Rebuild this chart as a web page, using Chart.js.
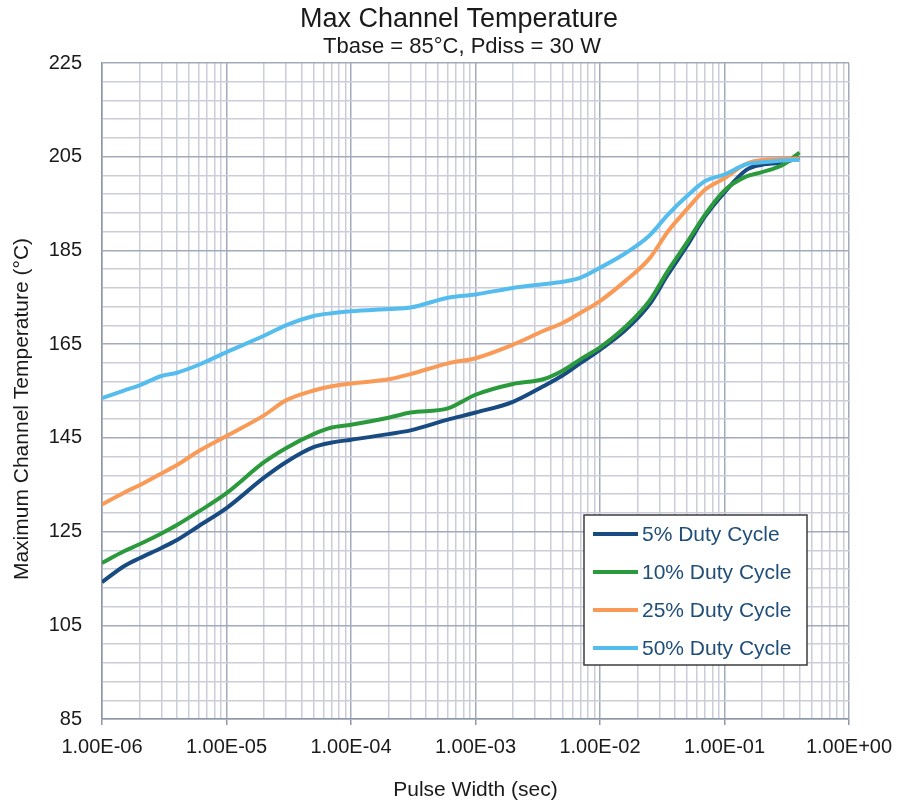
<!DOCTYPE html>
<html>
<head>
<meta charset="utf-8">
<title>Max Channel Temperature</title>
<script src="https://cdn.jsdelivr.net/npm/chart.js@4.4.1/dist/chart.umd.min.js"></script>
<style>
    body { margin: 0; background: #fff; }
    canvas { display: block; }
</style>
</head>
<body>
<canvas id="tempChart" width="897" height="803"></canvas>
<script>
// Pulse width (sec) sample points shared by every curve
const pulseWidth = [1e-6, 1.5e-6, 2e-6, 3e-6, 4e-6, 6e-6, 1e-5, 2e-5, 3e-5, 5e-5, 7e-5,
    1e-4, 2e-4, 3e-4, 6e-4, 1e-3, 2e-3, 3.5e-3, 5e-3, 7e-3, 1e-2, 1.6e-2, 2.5e-2, 3.5e-2,
    5e-2, 7e-2, 1e-1, 1.5e-1, 2e-1, 3e-1, 4e-1];

// Max channel temperature (°C) per duty cycle
const temp5 = [114.2, 117.6, 119.3, 121.5, 123.2, 126.2, 130, 136.5, 139.8, 143, 144,
    144.6, 145.8, 146.6, 148.9, 150.4, 152.7, 156, 158.3, 161, 163.8, 168, 173.5, 179.8,
    186, 192.3, 197.4, 202.2, 203.3, 203.8, 204.8];
const temp10 = [118.3, 120.8, 122.3, 124.6, 126.4, 129.3, 133.2, 139.8, 142.8, 145.8, 147.2,
    147.8, 149.3, 150.4, 151.3, 154.2, 156.5, 157.5, 159.3, 161.8, 164.3, 168.7, 174.3, 180.6,
    186.7, 192.7, 197.8, 200.8, 201.7, 203.4, 205.9];
const temp25 = [130.8, 133.3, 134.9, 137.4, 139.2, 142.2, 145.4, 149.8, 153, 155.1, 156,
    156.6, 157.5, 158.6, 160.9, 162, 164.9, 167.8, 169.5, 171.7, 174.2, 178.5, 183.3, 189,
    193.8, 198, 200.4, 203.5, 204.3, 204.5, 204.6];
const temp50 = [153.5, 155.1, 156.2, 158.2, 158.9, 160.6, 163.3, 166.8, 169, 171, 171.6,
    172, 172.5, 172.8, 174.9, 175.6, 177, 177.8, 178.3, 179.2, 181.3, 184.4, 188.2, 192.6,
    196.6, 199.8, 201.2, 203.4, 203.8, 204.2, 204.3];

const seriesLabels = ['5% Duty Cycle', '10% Duty Cycle', '25% Duty Cycle', '50% Duty Cycle'];
const seriesColors = ['#184b82', '#2b9a3c', '#f99a56', '#55bdee'];

// Axis ticks
const xDecades = [1e-6, 1e-5, 1e-4, 1e-3, 1e-2, 1e-1, 1e0];
const yMajor = [85, 105, 125, 145, 165, 185, 205, 225];
const yMinorStep = 4;

const chartTitle = 'Max Channel Temperature';
const chartSubtitle = 'Tbase = 85°C, Pdiss = 30 W';
const yTitle = 'Maximum Channel Temperature (°C)';

const gridMajor = '#a3aabb';
const gridMinor = '#cbcdd8';
const axisLine = '#8f98ab';
const textColor = '#1a1a1a';
const fontFamily = '"Liberation Sans", Arial, sans-serif';

function isDecade(v) {
    const l = Math.log10(v);
    return Math.abs(l - Math.round(l)) < 1e-9;
}

function sciLabel(v) {
    const e = Math.round(Math.log10(v));
    const m = v / Math.pow(10, e);
    return m.toFixed(2) + 'E' + (e < 0 ? '-' : '+') + String(Math.abs(e)).padStart(2, '0');
}

// Titles drawn by hand so they sit where the original has them
const headings = {
    id: 'headings',
    afterDraw(chart) {
        const ctx = chart.ctx;
        ctx.save();
        ctx.fillStyle = textColor;
        ctx.textAlign = 'center';
        ctx.textBaseline = 'middle';
        ctx.font = '27px ' + fontFamily;
        ctx.fillText(chartTitle, 459, 20);
        ctx.font = '22px ' + fontFamily;
        ctx.fillText(chartSubtitle, 462, 47);
        ctx.translate(22, 409);
        ctx.rotate(-Math.PI / 2);
        ctx.font = '21px ' + fontFamily;
        ctx.fillText(yTitle, 0, 0);
        ctx.restore();
    }
};

// Legend drawn as a boxed key inside the plot, like the original
const boxLegend = {
    id: 'boxLegend',
    afterDraw(chart) {
        const ctx = chart.ctx;
        const x = 584, y = 515, w = 223, h = 150;
        ctx.save();
        ctx.fillStyle = '#fff';
        ctx.fillRect(x, y, w, h);
        ctx.strokeStyle = '#3c3c3c';
        ctx.lineWidth = 1.5;
        ctx.strokeRect(x, y, w, h);
        ctx.font = '21px ' + fontFamily;
        ctx.textBaseline = 'middle';
        chart.data.datasets.forEach((ds, i) => {
            const cy = y + 19 + i * 38;
            ctx.strokeStyle = ds.borderColor;
            ctx.lineWidth = 4;
            ctx.beginPath();
            ctx.moveTo(x + 9, cy);
            ctx.lineTo(x + 54, cy);
            ctx.stroke();
            ctx.fillStyle = '#1f4e79';
            ctx.fillText(ds.label, x + 58, cy + 1);
        });
        ctx.restore();
    }
};

const dataSets = [temp5, temp10, temp25, temp50].map((vals, i) => ({
    label: seriesLabels[i],
    data: pulseWidth.map((px, j) => ({ x: px, y: vals[j] })),
    borderColor: seriesColors[i],
    backgroundColor: seriesColors[i],
    borderWidth: 4,
    pointRadius: 0,
    fill: false,
    cubicInterpolationMode: 'monotone',
    order: 3 - i
}));

const ctx = document.getElementById('tempChart').getContext('2d');
new Chart(ctx, {
    type: 'line',
    data: { datasets: dataSets },
    options: {
        responsive: false,
        animation: false,
        layout: { padding: { top: 63, right: 48, bottom: 0, left: 0 } },
        plugins: {
            legend: { display: false },
            tooltip: { enabled: false }
        },
        scales: {
            x: {
                type: 'logarithmic',
                min: 1e-6,
                max: 1,
                afterBuildTicks: (scale) => {
                    const ticks = [];
                    xDecades.forEach((d, k) => {
                        if (k === xDecades.length - 1) {
                            ticks.push({ value: d });
                            return;
                        }
                        for (let m = 1; m <= 9; m++) {
                            ticks.push({ value: Number((m * d).toPrecision(3)) });
                        }
                    });
                    scale.ticks = ticks;
                },
                afterFit: (scale) => {
                    scale.height = 84;
                    scale.paddingLeft = 0;
                    scale.paddingRight = 0;
                },
                grid: {
                    color: (c) => isDecade(c.tick.value) ? gridMajor : gridMinor,
                    lineWidth: 1.5,
                    drawTicks: true,
                    tickLength: 6,
                    tickColor: (c) => isDecade(c.tick.value) ? axisLine : 'rgba(0,0,0,0)'
                },
                border: { color: axisLine, width: 1.5 },
                ticks: {
                    autoSkip: false,
                    maxRotation: 0,
                    minRotation: 0,
                    padding: 10,
                    color: textColor,
                    font: { family: fontFamily, size: 20 },
                    callback: (v) => isDecade(v) ? sciLabel(v) : ''
                },
                title: {
                    display: true,
                    text: 'Pulse Width (sec)',
                    color: textColor,
                    font: { family: fontFamily, size: 21 },
                    padding: { top: 3, bottom: 0 }
                }
            },
            y: {
                type: 'linear',
                min: 85,
                max: 225,
                afterBuildTicks: (scale) => {
                    const ticks = [];
                    for (let v = yMajor[0]; v <= yMajor[yMajor.length - 1]; v += yMinorStep) {
                        ticks.push({ value: v });
                    }
                    scale.ticks = ticks;
                },
                afterFit: (scale) => { scale.width = 102; },
                grid: {
                    color: (c) => yMajor.includes(c.tick.value) ? gridMajor : gridMinor,
                    lineWidth: 1.5,
                    drawTicks: false
                },
                border: { color: axisLine, width: 1.5 },
                ticks: {
                    autoSkip: false,
                    padding: 20,
                    color: textColor,
                    font: { family: fontFamily, size: 20 },
                    callback: (v) => yMajor.includes(v) ? String(v) : ''
                },
                title: { display: false }
            }
        }
    },
    plugins: [headings, boxLegend]
});
</script>
</body>
</html>
